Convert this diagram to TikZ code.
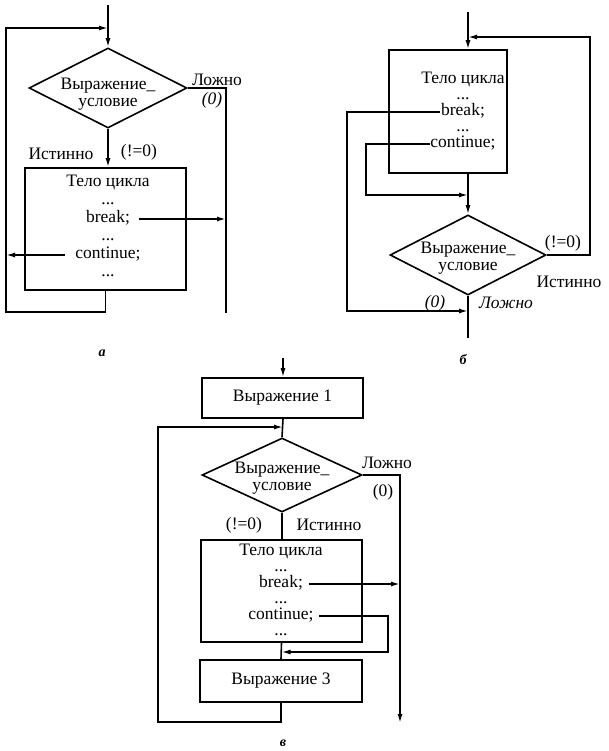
\documentclass[tikz,border=0pt]{standalone}
\usepackage{fontspec}
\setmainfont{Liberation Serif}
\usetikzlibrary{shapes.geometric,arrows.meta}

\def\dd{...}

\begin{document}
\begin{tikzpicture}[x=1pt,y=-1pt,line width=1.6pt,
    font=\fontsize{17.5}{17}\selectfont,
    arr/.style={-{Latex[length=9pt,width=5pt]}},
    blk/.style={draw,rectangle,inner sep=0pt},
    cond/.style={draw,diamond,inner sep=0pt},
    txt/.style={inner sep=0pt,text height=11pt,text depth=4pt},
    tag/.style={font=\fontsize{14}{14}\selectfont\itshape\bfseries}]
  \useasboundingbox (0,0) rectangle (608,751);

  % a
  \node[cond,minimum width=158pt,minimum height=80pt] (aCond) at (108,88) {};
  \node[align=center] (aQ) at (108,94) {Выражение\_\\условие};
  \node[blk,minimum width=161pt,minimum height=122pt] (aBody) at (105.5,229) {};
  \foreach \s/\n [count=\i] in {Тело цикла/t,\dd/d,break;/b,\dd/e,continue;/c,\dd/f}
    \node[txt] (a\n) at (108,165+18*\i) {\s};
  \coordinate (aIn) at (108,5);
  \coordinate (aTop) at (108,28);
  \coordinate (aL) at (6,28);
  \coordinate (aOut) at (226,313);
  \draw[arr] (aIn) -- (aCond.north);
  \draw[arr] (aCond.south) -- (aBody.north -| aCond.south);
  \draw[arr] (aBody.south) -- ++(0,21) -| (aL) -- (aTop);
  \draw (aCond.east) -| (aOut);
  \draw[arr] ([xshift=8pt]ab.east) -- (ab.east -| aOut);
  \draw[arr] ([xshift=-10pt]ac.west) -- (ac.west -| aL);
  \node (aF) at (217,80) {Ложно};
  \node (aF0) at (212,100) {\itshape (0)};
  \node (aT) at (61,154) {Истинно};
  \node (aT0) at (139,152) {(!=0)};
  \node[tag] (aTag) at (102,353) {а};

  % b
  \node[blk,minimum width=118pt,minimum height=123pt] (bBody) at (448,111.5) {};
  \foreach \s/\n [count=\i] in {Тело цикла/t,\dd/d,break;/b,\dd/e,continue;/c}
    \node[txt] (b\n) at (463,64+16*\i) {\s};
  \node[cond,minimum width=156pt,minimum height=80pt] (bCond) at (468,255) {};
  \node[align=center] (bQ) at (468,258) {Выражение\_\\условие};
  \coordinate (bIn) at (468,12);
  \coordinate (bJoin) at (468,37);
  \coordinate (bOut) at (468,338);
  \coordinate (bL1) at (347,311);
  \coordinate (bL2) at (366,195);
  \draw[arr] (bIn) -- (bIn |- bBody.north);
  \draw[arr] (bCond.north |- bBody.south) -- (bCond.north);
  \draw[arr] (bCond.east) -- ++(43,0) |- (bJoin);
  \draw (bCond.south) -- (bOut);
  \draw[arr] (bb.west) -| (bL1) -- (bL1 -| bOut);
  \draw[arr] (bc.west) -| (bL2) -- (bL2 -| bOut);
  \node (bT0) at (563,243) {(!=0)};
  \node (bT) at (569,282) {Истинно};
  \node (bF0) at (435,303) {\itshape (0)};
  \node (bF) at (506,303) {\itshape Ложно};
  \node[tag] (bTag) at (463,360) {б};

  % c
  \node[blk,minimum width=161pt,minimum height=40pt] (cExp1) at (282.5,398) {Выражение 1};
  \node[cond,minimum width=160pt,minimum height=74pt] (cCond) at (282,475) {};
  \node[align=center] (cQ) at (282,478) {Выражение\_\\условие};
  \node[blk,minimum width=161pt,minimum height=102pt] (cBody) at (281.5,591) {};
  \foreach \s/\n [count=\i] in {Тело цикла/t,\dd/d,break;/b,\dd/e,continue;/c,\dd/f}
    \node[txt] (c\n) at (281,536+16*\i) {\s};
  \node[blk,minimum width=162pt,minimum height=42pt] (cExp3) at (281,681) {Выражение 3};
  \coordinate (cIn) at (283,358);
  \coordinate (cJoin) at (283,427);
  \coordinate (cL) at (158,722);
  \coordinate (cOut) at (400,723);
  \coordinate (cR) at (388,652);
  \draw[arr] (cIn) -- (cIn |- cExp1.north);
  \draw (cIn |- cExp1.south) -- (cCond.north);
  \draw[arr] (cExp3.south) |- (cL) |- (cJoin);
  \draw (cCond.south) -- (cCond.south |- cBody.north);
  \draw (cBody.south) -- (cExp3.north);
  \draw[arr] (cCond.east) -| (cOut);
  \draw[arr] ([xshift=5pt]cb.east) -- (cb.east -| cOut);
  \draw[arr] ([xshift=5pt]cc.east) -| (cR) -- (cR -| cBody.south);
  \node (cF) at (387,463) {Ложно};
  \node (cF0) at (383,492) {(0)};
  \node (cT0) at (244,525) {(!=0)};
  \node (cT) at (329,525) {Истинно};
  \node[tag] (cTag) at (283,743) {в};
\end{tikzpicture}
\end{document}
